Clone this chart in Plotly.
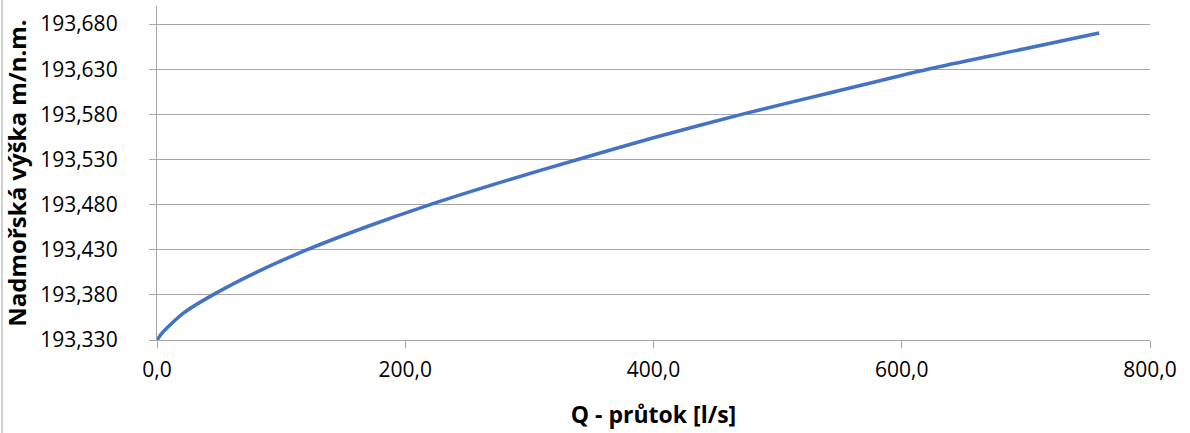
import plotly.graph_objects as go

# Discharge Q [l/s] and water level H [m n.m.]
q_values = [0, 4, 10.5, 21, 45, 80, 121, 170, 220, 280, 339, 400, 471, 540, 621, 690, 759]
h_values = [193.330, 193.3375, 193.3466, 193.3596, 193.380, 193.405, 193.430, 193.456,
            193.480, 193.506, 193.530, 193.554, 193.580, 193.603, 193.630, 193.650, 193.670]

x_tickvals = [0, 200, 400, 600, 800]
x_ticktext = ["0,0", "200,0", "400,0", "600,0", "800,0"]
y_tickvals = [193.330, 193.380, 193.430, 193.480, 193.530, 193.580, 193.630, 193.680]
y_ticktext = ["193,330", "193,380", "193,430", "193,480", "193,530", "193,580", "193,630", "193,680"]

x_title = "Q - průtok [l/s]"
y_title = "Nadmořská výška m/n.m."

FONT = "Open Sans"
GRID = "#a6a6a6"

fig = go.Figure()
fig.add_trace(go.Scatter(
    x=q_values, y=h_values, mode="lines",
    line=dict(color="#4472C4", width=3.5, shape="spline", smoothing=0.8),
    hoverinfo="x+y", showlegend=False,
))

fig.update_layout(
    width=1190, height=433,
    margin=dict(l=157, r=40, t=6, b=93),
    paper_bgcolor="white", plot_bgcolor="white",
    font=dict(family=FONT, size=21, color="#000000"),
    xaxis=dict(
        range=[0, 800], tickvals=x_tickvals, ticktext=x_ticktext,
        automargin=False,
        showgrid=False, zeroline=False,
        showline=True, linecolor=GRID, linewidth=1.3,
        ticks="outside", ticklen=7, tickcolor=GRID, tickwidth=1.3,
        ticklabelstandoff=4,
        tickfont=dict(family=FONT, size=21, color="#000000"),
        title=dict(text="<b>" + x_title + "</b>", standoff=24,
                   font=dict(family=FONT, size=23, color="#000000")),
    ),
    yaxis=dict(
        range=[193.330, 193.700], tickvals=y_tickvals, ticktext=y_ticktext,
        automargin=False,
        showgrid=True, gridcolor=GRID, gridwidth=1.3,
        zeroline=False,
        showline=True, linecolor=GRID, linewidth=1.3,
        ticks="outside", ticklen=7, tickcolor=GRID, tickwidth=1.3,
        ticklabelstandoff=27,
        tickfont=dict(family=FONT, size=21, color="#000000"),
        title=dict(text="<b>" + y_title + "</b>", standoff=6,
                   font=dict(family=FONT, size=24, color="#000000")),
    ),
    shapes=[dict(type="line", xref="paper", yref="paper",
                 x0=(2 - 157) / 993, x1=(2 - 157) / 993, y0=-93 / 334, y1=6 / 334 + 1,
                 line=dict(color="#bfbfbf", width=1.5))],
)

fig.write_html(
    "out.html",
    config={"displayModeBar": False},
    post_script="document.body.style.margin='0';document.body.style.padding='0';",
)
